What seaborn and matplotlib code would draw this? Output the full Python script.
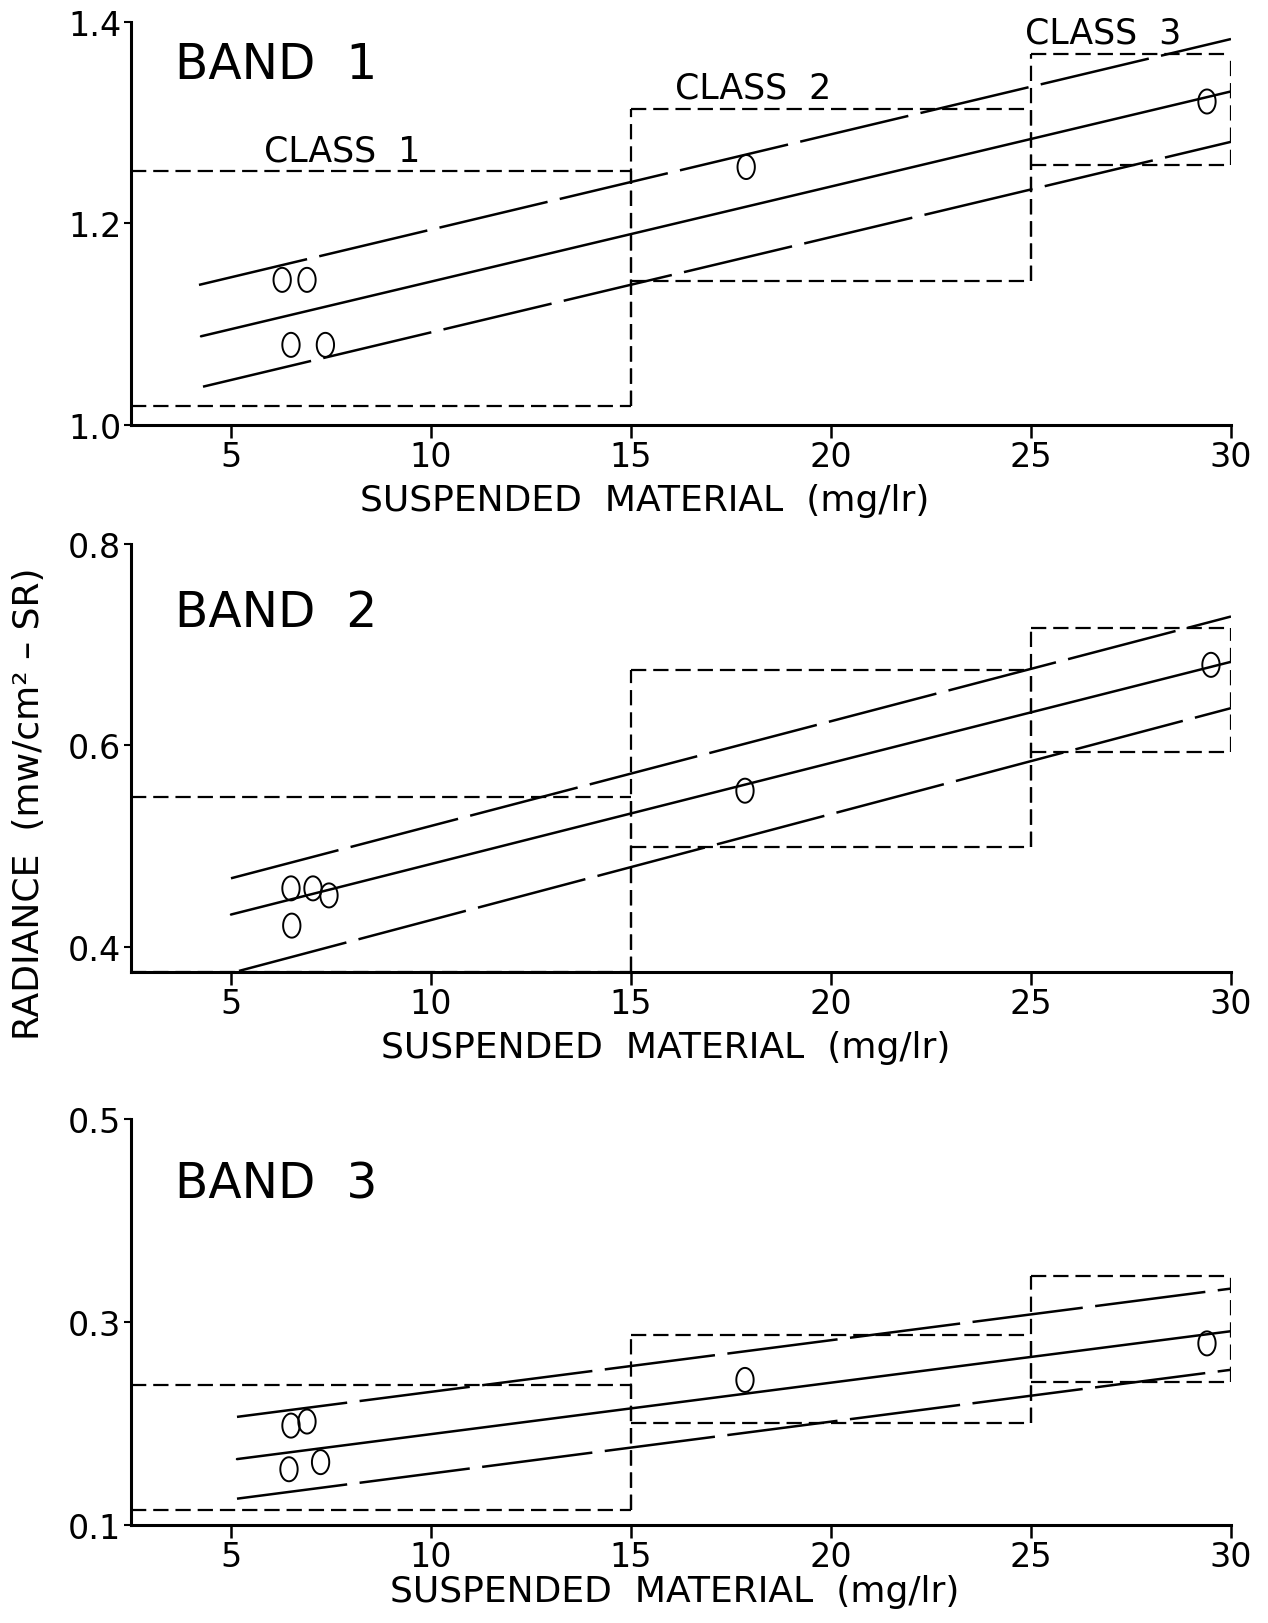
import numpy as np
import pandas as pd
import matplotlib
matplotlib.use("Agg")
import matplotlib.pyplot as plt
from matplotlib.path import Path
import seaborn as sns

sns.set_style("ticks")
plt.rcParams['font.family'] = ['DejaVu Sans']
plt.rcParams['lines.scale_dashes'] = False
plt.rcParams.update({"text.color": "black", "axes.labelcolor": "black",
                     "axes.edgecolor": "black", "xtick.color": "black",
                     "ytick.color": "black"})

# ---- data ----
x_ticks = [5, 10, 15, 20, 25, 30]
class_edges = [2.5, 15, 25, 30]
class_names = ["CLASS  1", "CLASS  2", "CLASS  3"]
band_names = ["BAND  1", "BAND  2", "BAND  3"]

y_limits = [(1.0, 1.4), (0.375, 0.8), (0.1, 0.5)]
y_ticks = [[1.0, 1.2, 1.4], [0.4, 0.6, 0.8], [0.1, 0.3, 0.5]]
y_ticklabels = [["1.0", "1.2", "1.4"], ["0.4", "0.6", "0.8"], ["0.1", "0.3", "0.5"]]

# regression line (solid) and its two dashed limits, end points per band
center_x = [[4.25, 30.0], [5.0, 30.0], [5.15, 30.0]]
center_y = [[1.088, 1.331], [0.432, 0.683], [0.165, 0.291]]
upper_x = [[4.2, 30.0], [5.0, 30.0], [5.15, 30.0]]
upper_y = [[1.139, 1.383], [0.468, 0.728], [0.2066, 0.333]]
lower_x = [[4.3, 30.0], [5.2, 30.0], [5.15, 30.0]]
lower_y = [[1.038, 1.281], [0.376, 0.637], [0.126, 0.253]]

# measured samples
pts_x = [[6.28, 6.9, 6.5, 7.36, 17.88, 29.4],
         [6.5, 7.05, 7.45, 6.52, 17.85, 29.5],
         [6.5, 6.9, 6.45, 7.24, 17.85, 29.4]]
pts_y = [[1.144, 1.144, 1.0795, 1.0795, 1.256, 1.321],
         [0.458, 0.458, 0.451, 0.421, 0.555, 0.68],
         [0.198, 0.202, 0.155, 0.162, 0.243, 0.279]]

# class boxes: lower / upper radiance limit of classes 1-3
class_lo = [[1.019, 1.143, 1.2576], [0.375, 0.4986, 0.593], [0.1153, 0.201, 0.2414]]
class_hi = [[1.2517, 1.314, 1.3685], [0.549, 0.6746, 0.717], [0.238, 0.287, 0.345]]

# ---- layout ----
fig = plt.figure(figsize=(12.68, 16.24), dpi=100)
positions = [[0.1033, 0.7377, 0.8675, 0.2482],
             [0.1033, 0.4009, 0.8675, 0.2635],
             [0.1033, 0.0603, 0.8675, 0.2500]]
band_text_y = [1.3586, 0.732, 0.437]
xlabel_coords = [(0.467, -0.186), (0.486, -0.175), (0.4945, -0.163)]

th = np.linspace(0, 2 * np.pi, 60)
ellipse = Path(np.column_stack([0.72 * np.cos(th), np.sin(th)]), closed=True)

long_dash = (80, 9)
box_dash = (11, 5)

for i in range(3):
    ax = fig.add_axes(positions[i])

    lines = pd.DataFrame({
        "x": center_x[i] + upper_x[i] + lower_x[i],
        "y": center_y[i] + upper_y[i] + lower_y[i],
        "line": ["center"] * 2 + ["upper"] * 2 + ["lower"] * 2,
    })
    sns.lineplot(data=lines, x="x", y="y", style="line",
                 dashes={"center": "", "upper": long_dash, "lower": long_dash},
                 color="black", lw=1.8, estimator=None, sort=False,
                 legend=False, ax=ax)

    # class boxes
    for k in range(3):
        x0, x1 = class_edges[k], class_edges[k + 1]
        lo, hi = class_lo[i][k], class_hi[i][k]
        ax.plot([x0, x1], [hi, hi], color="black", lw=1.6, dashes=box_dash)
        ax.plot([x0, x1], [lo, lo], color="black", lw=1.6, dashes=box_dash)
        ax.plot([x1, x1], [lo, hi], color="black", lw=1.6, dashes=box_dash)
        if k > 0:
            ax.plot([x0, x0], [min(lo, class_lo[i][k - 1]), hi],
                    color="black", lw=1.6, dashes=box_dash)

    sns.scatterplot(x=pts_x[i], y=pts_y[i], marker=ellipse, s=300,
                    facecolor="none", edgecolor="black", linewidth=1.4,
                    ax=ax, zorder=3)

    ax.set_xlim(2.5, 30)
    ax.set_ylim(*y_limits[i])
    ax.set_xticks(x_ticks)
    ax.set_xticklabels([str(t) for t in x_ticks])
    ax.set_yticks(y_ticks[i])
    ax.set_yticklabels(y_ticklabels[i])
    sns.despine(ax=ax)
    for s in ["left", "bottom"]:
        ax.spines[s].set_linewidth(2.2)
    ax.tick_params(axis="x", length=9, width=1.8, pad=2, labelsize=24)
    ax.tick_params(axis="y", length=5, width=1.5, pad=2, labelsize=24)

    ax.set_xlabel("SUSPENDED  MATERIAL  (mg/lr)", fontsize=26)
    ax.xaxis.label.set_va("center")
    ax.xaxis.set_label_coords(*xlabel_coords[i])
    ax.set_ylabel("")

    ax.text(3.6, band_text_y[i], band_names[i], fontsize=35,
            ha="left", va="center")

    if i == 0:
        ax.text(7.77, 1.2725, class_names[0], fontsize=25, ha="center", va="center")
        ax.text(18.05, 1.335, class_names[1], fontsize=25, ha="center", va="center")
        ax.text(26.8, 1.389, class_names[2], fontsize=25, ha="center", va="center",
                clip_on=False)

fig.text(29 / 1268, 1 - 804 / 1624, "RADIANCE  (mw/cm\u00b2 \u2013 SR)",
         rotation=90, fontsize=26, ha="center", va="center")

fig.savefig("out.png", dpi=100)
